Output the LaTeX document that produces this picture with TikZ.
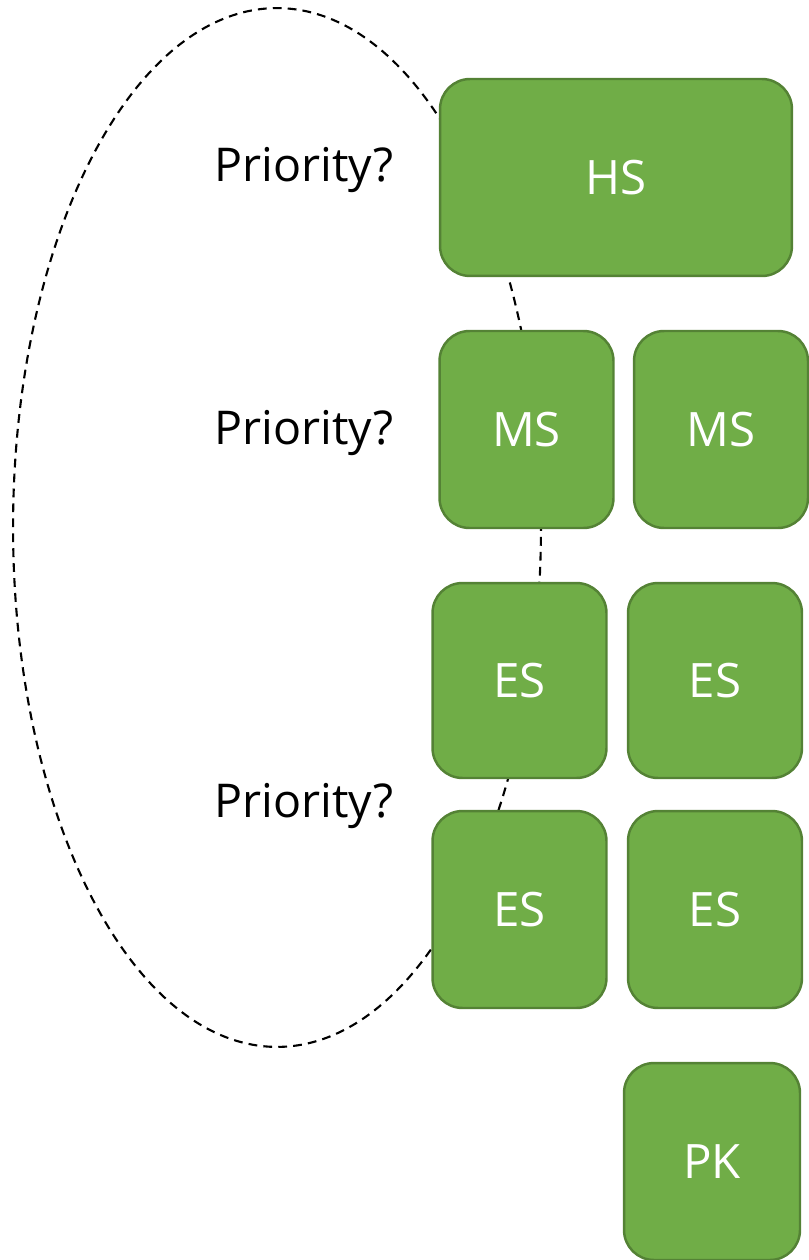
\documentclass[tikz,border=0pt]{standalone}
\usepackage{fontspec}
\setmainfont{Open Sans}
\definecolor{boxgreen}{HTML}{70AD47}
\definecolor{boxedge}{HTML}{548235}
\tikzset{
  slot/.style={draw=boxedge, line width=1.4pt, fill=boxgreen, rounded corners=0.6cm,
    text=white, inner sep=0pt, minimum width=3.48cm, minimum height=3.94cm,
    font=\fontsize{27}{33}\selectfont},
  prio/.style={font=\fontsize{26.5}{32}\selectfont, inner sep=0pt}
}
\begin{document}
\begin{tikzpicture}[x=0.02cm, y=-0.02cm]
    \useasboundingbox (0,0) rectangle (808,1260);

    % Grouping ellipse
    \draw[dash pattern=on 5pt off 3.5pt, line width=1.2pt] (277,527.5) ellipse [x radius=5.28cm, y radius=10.39cm];

    % Labels
    \node[prio] (prio1) at (304,170) {Priority?};
    \node[prio] (prio2) at (304,433) {Priority?};
    \node[prio] (prio3) at (304,806) {Priority?};

    % Top level
    \node[slot, minimum width=7.04cm] (hs) at (616,177.5) {HS};

    % Middle level
    \node[slot] (ms1) at (526.5,429.5) {MS};
    \node[slot] (ms2) at (721,429.5) {MS};

    % Lower levels
    \node[slot, minimum height=3.9cm] (es1) at (519.5,680.5) {ES};
    \node[slot, minimum height=3.9cm] (es2) at (715,680.5) {ES};
    \node[slot] (es3) at (519.5,909.5) {ES};
    \node[slot] (es4) at (715,909.5) {ES};

    % Bottom
    \node[slot, minimum width=3.52cm] (pk) at (712,1161.5) {PK};
\end{tikzpicture}
\end{document}
